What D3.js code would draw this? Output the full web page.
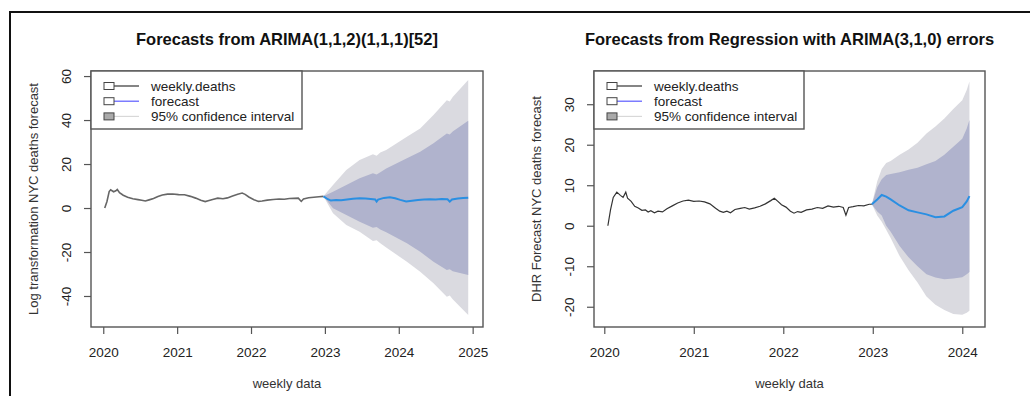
<!DOCTYPE html>
<meta charset="utf-8">
<style>
  body { margin: 0; background: #fff; font-family: "Liberation Sans", Arial, sans-serif; }
  .axis text { fill: #222; font-size: 13.5px; font-family: "Liberation Sans", Arial, sans-serif; }
  .axis line { stroke: #555; stroke-width: 1.2; }
  .title { font-size: 16.5px; font-weight: bold; fill: #111; }
  .lab { font-size: 13px; fill: #333; }
  .legend text { font-size: 13.5px; fill: #222; }
</style>
<body>
<script src="https://d3js.org/d3.v7.min.js"></script>
<script>
// ---- left panel: ARIMA(1,1,2)(1,1,1)[52] ----
var histTime1 = [2020.02,2020.05,2020.08,2020.10,2020.14,2020.17,2020.19,2020.22,2020.27,2020.33,2020.40,2020.47,2020.52,2020.57,2020.62,2020.68,2020.74,2020.80,2020.87,2020.94,2021.02,2021.10,2021.18,2021.25,2021.32,2021.38,2021.42,2021.48,2021.55,2021.62,2021.68,2021.75,2021.82,2021.88,2021.92,2021.97,2022.04,2022.10,2022.15,2022.22,2022.30,2022.38,2022.45,2022.52,2022.58,2022.64,2022.68,2022.71,2022.78,2022.85,2022.92,2022.98];
var histVal1  = [0,3,7.5,8.3,7.4,7.8,8.4,7.0,5.8,4.9,4.2,3.8,3.5,3.2,3.7,4.3,5.2,5.9,6.3,6.4,6.1,6.0,5.3,4.5,3.5,2.9,3.3,3.9,4.5,4.2,4.6,5.5,6.3,6.8,6.2,5.0,3.8,3.0,3.2,3.6,3.9,4.1,4.0,4.3,4.4,4.5,3.0,4.1,4.7,4.9,5.1,5.3];
var fcTime1 = [2022.98,2023.04,2023.08,2023.15,2023.22,2023.30,2023.38,2023.47,2023.55,2023.62,2023.68,2023.70,2023.72,2023.80,2023.88,2023.95,2024.02,2024.10,2024.18,2024.26,2024.34,2024.42,2024.50,2024.58,2024.66,2024.69,2024.72,2024.80,2024.87,2024.94];
var fcMean1 = [5.3,4.0,3.4,3.6,3.5,3.9,4.2,4.4,4.3,4.1,3.9,2.9,3.8,4.6,4.9,4.4,3.7,3.0,3.3,3.6,3.9,4.0,3.9,4.1,4.0,2.9,3.9,4.3,4.5,4.7];
var bandTime1 = [2022.98,2023.11,2023.29,2023.47,2023.65,2023.70,2023.75,2023.83,2024.11,2024.29,2024.47,2024.65,2024.69,2024.73,2024.94];
var hi95_1 = [5.3,10.5,17.3,21.8,24.5,23.8,25.2,26.4,32.4,36.2,42.3,49,48.4,50.5,58.2];
var hi80_1 = [5.3,7.4,10.5,13.5,15.8,15.2,16.3,18,22.6,25.6,29.4,33.9,33.4,34.8,39.7];
var lo80_1 = [5.3,-0.1,-3.2,-6.2,-9,-8.6,-9.8,-11,-16,-19.9,-24.4,-28.2,-27.8,-28.8,-30.5];
var lo95_1 = [5.3,-2.4,-7.7,-10.8,-15,-14.6,-16,-18,-24.4,-29,-34.2,-40.3,-39.8,-41.5,-48.6];
var xTicks1 = [2020,2021,2022,2023,2024,2025];
var yTicks1 = [-40,-20,0,20,40,60];

// ---- right panel: Regression with ARIMA(3,1,0) errors ----
var histTime2 = [2020.04,2020.07,2020.10,2020.14,2020.18,2020.21,2020.24,2020.26,2020.30,2020.34,2020.38,2020.42,2020.46,2020.49,2020.52,2020.56,2020.60,2020.65,2020.70,2020.76,2020.82,2020.88,2020.94,2021.00,2021.06,2021.12,2021.18,2021.24,2021.29,2021.33,2021.37,2021.41,2021.46,2021.52,2021.57,2021.62,2021.68,2021.74,2021.80,2021.86,2021.90,2021.94,2021.98,2022.03,2022.08,2022.12,2022.16,2022.20,2022.26,2022.32,2022.38,2022.44,2022.50,2022.56,2022.62,2022.67,2022.70,2022.73,2022.78,2022.84,2022.90,2022.96,2022.99];
var histVal2  = [0,4,7.0,8.3,7.5,7.0,8.3,6.8,6.0,4.8,4.4,3.8,3.9,3.4,3.7,3.2,3.6,3.4,4.2,4.9,5.6,6.1,6.3,6.0,6.1,5.9,5.4,4.4,3.6,3.3,3.6,3.2,4.0,4.3,4.5,4.1,4.4,4.8,5.4,6.2,6.8,6.0,5.2,4.6,3.6,3.1,3.5,3.3,3.9,4.1,4.5,4.3,4.9,4.6,4.8,4.5,2.6,4.5,4.7,5.0,4.9,5.3,5.3];
var fcTime2 = [2022.99,2023.05,2023.1,2023.15,2023.2,2023.3,2023.4,2023.5,2023.6,2023.7,2023.8,2023.9,2024.0,2024.05,2024.08];
var fcMean2 = [5.3,6.5,7.6,7.2,6.5,5.0,3.8,3.3,2.8,2.1,2.3,3.7,4.6,6.0,7.3];
var hi95_2 = [5.3,11,14,15.5,16,17.5,18.8,20.5,22.8,24.5,26.5,28.8,31,33.5,35.6];
var hi80_2 = [5.3,9.5,11.5,12.5,12.8,13.2,13.8,14.3,15.2,16,17.5,19.5,21.5,24,26.1];
var lo80_2 = [5.3,3.5,2.5,0,-1.5,-5,-7.8,-10,-12,-12.8,-13.2,-13,-12.7,-12,-11.4];
var lo95_2 = [5.3,2.5,1.0,-1,-3,-7.5,-11,-14,-17.5,-19.5,-20.8,-21.8,-22,-21.5,-21];
var xTicks2 = [2020,2021,2022,2023,2024];
var yTicks2 = [-20,-10,0,10,20,30];

var legendLabels = ["weekly.deaths", "forecast", "95% confidence interval"];

var svg = d3.select("body").append("svg")
    .attr("width", 1030)
    .attr("height", 396);

// outer frame
svg.append("path")
    .attr("d", "M10,396V12H1030")
    .attr("fill", "none")
    .attr("stroke", "#111")
    .attr("stroke-width", 2);

function drawPanel(p) {
  var x = d3.scaleLinear().domain(p.xDomain).range([p.left, p.right]);
  var y = d3.scaleLinear().domain(p.yDomain).range([p.bottom, p.top]);

  var g = svg.append("g");

  // bands
  var band = function(lo, hi) {
    return d3.area()
      .x(function(d, i) { return x(p.bandTime[i]); })
      .y0(function(d, i) { return y(lo[i]); })
      .y1(function(d, i) { return y(hi[i]); });
  };
  g.append("path").datum(p.bandTime)
    .attr("d", band(p.lo95, p.hi95))
    .attr("fill", "#dadae0");
  g.append("path").datum(p.bandTime)
    .attr("d", band(p.lo80, p.hi80))
    .attr("fill", "#b0b3cd");

  var line = d3.line()
    .x(function(d) { return x(d[0]); })
    .y(function(d) { return y(d[1]); });

  g.append("path")
    .datum(p.histTime.map(function(t, i) { return [t, p.histVal[i]]; }))
    .attr("d", line)
    .attr("fill", "none")
    .attr("stroke", p.histColor)
    .attr("stroke-width", p.histWidth);

  g.append("path")
    .datum(p.fcTime.map(function(t, i) { return [t, p.fcMean[i]]; }))
    .attr("d", line)
    .attr("fill", "none")
    .attr("stroke", "#2a8fe2")
    .attr("stroke-width", 2);

  // plot box
  g.append("rect")
    .attr("x", p.left).attr("y", p.top)
    .attr("width", p.right - p.left).attr("height", p.bottom - p.top)
    .attr("fill", "none").attr("stroke", "#555").attr("stroke-width", 1.4);

  // axes (plain hyphen for negatives, like R)
  var fmt = function(d) { return String(d); };
  var xa = g.append("g")
    .attr("class", "axis")
    .attr("transform", "translate(0," + p.bottom + ")")
    .call(d3.axisBottom(x).tickValues(p.xTicks).tickSize(7).tickFormat(fmt));
  xa.select(".domain").remove();
  xa.selectAll("text").attr("y", 29.5).attr("dy", 0);

  var ya = g.append("g")
    .attr("class", "axis")
    .attr("transform", "translate(" + p.left + ",0)")
    .call(d3.axisLeft(y).tickValues(p.yTicks).tickSize(7).tickFormat(fmt));
  ya.select(".domain").remove();
  ya.selectAll("text")
    .attr("x", 0).attr("y", -20).attr("dy", 0)
    .attr("text-anchor", "middle")
    .attr("transform", "rotate(-90)");

  // titles
  svg.append("text").attr("class", "title")
    .attr("x", (p.left + p.right) / 2).attr("y", 45)
    .attr("text-anchor", "middle")
    .text(p.title);
  svg.append("text").attr("class", "lab")
    .attr("x", (p.left + p.right) / 2).attr("y", 387.5)
    .attr("text-anchor", "middle")
    .text("weekly data");
  svg.append("text").attr("class", "lab")
    .attr("transform", "translate(" + (p.left - 53) + "," + ((p.top + p.bottom) / 2) + ") rotate(-90)")
    .attr("text-anchor", "middle")
    .text(p.yTitle);

  // legend
  var lg = svg.append("g").attr("class", "legend");
  lg.append("rect")
    .attr("x", p.left).attr("y", p.top)
    .attr("width", p.legendW).attr("height", 58)
    .attr("fill", "#fff").attr("stroke", "#555").attr("stroke-width", 1.4);
  var lineCols = ["#333", "#5b5bff", "#d8d8d8"];
  var boxCols = ["#fff", "#fff", "#aaa"];
  legendLabels.forEach(function(lab, i) {
    var cy = p.top + 15 + i * 15.2;
    lg.append("line")
      .attr("x1", p.left + 22).attr("x2", p.left + 48)
      .attr("y1", cy).attr("y2", cy)
      .attr("stroke", lineCols[i]).attr("stroke-width", 1.2);
    lg.append("rect")
      .attr("x", p.left + 13).attr("y", cy - 3.5)
      .attr("width", 10).attr("height", 7)
      .attr("fill", boxCols[i]).attr("stroke", "#444").attr("stroke-width", 1);
    lg.append("text")
      .attr("x", p.left + 60).attr("y", cy + 4.5)
      .text(lab);
  });
}

drawPanel({
  left: 91, right: 483, top: 71, bottom: 327,
  xDomain: [2019.834, 2025.14], yDomain: [-54.1, 62.3],
  xTicks: xTicks1, yTicks: yTicks1,
  histTime: histTime1, histVal: histVal1, histColor: "#666", histWidth: 1.6,
  fcTime: fcTime1, fcMean: fcMean1,
  bandTime: bandTime1, hi95: hi95_1, hi80: hi80_1, lo80: lo80_1, lo95: lo95_1,
  title: "Forecasts from ARIMA(1,1,2)(1,1,1)[52]",
  yTitle: "Log transformation NYC deaths forecast",
  legendW: 211
});

drawPanel({
  left: 594, right: 985, top: 71, bottom: 327,
  xDomain: [2019.885, 2024.254], yDomain: [-25, 38.2],
  xTicks: xTicks2, yTicks: yTicks2,
  histTime: histTime2, histVal: histVal2, histColor: "#333", histWidth: 1.2,
  fcTime: fcTime2, fcMean: fcMean2,
  bandTime: fcTime2, hi95: hi95_2, hi80: hi80_2, lo80: lo80_2, lo95: lo95_2,
  title: "Forecasts from Regression with ARIMA(3,1,0) errors",
  yTitle: "DHR Forecast NYC deaths forecast",
  legendW: 210
});
</script>
